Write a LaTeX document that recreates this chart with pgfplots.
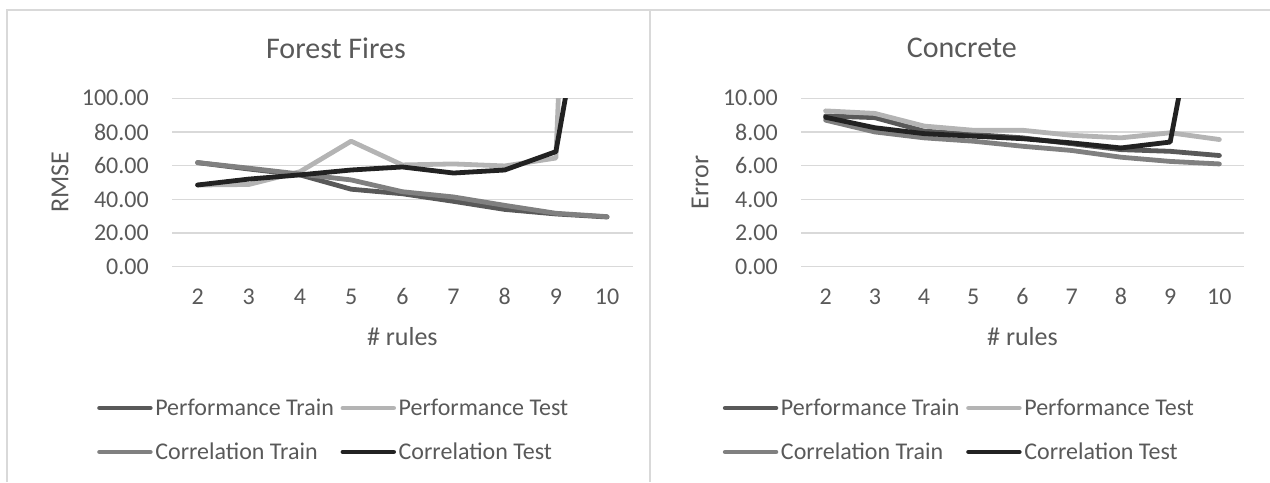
\documentclass[border=0pt]{standalone}
\usepackage{fontspec}
\setmainfont{Carlito}
\usepackage{pgfplots}
\usepackage{pgfplotstable}
\pgfplotsset{compat=1.18}
\definecolor{txt}{HTML}{595959}
\definecolor{gridc}{HTML}{D9D9D9}
\definecolor{ptrain}{HTML}{595959}
\definecolor{ptest}{HTML}{B4B4B4}
\definecolor{ctrain}{HTML}{808080}
\definecolor{ctest}{HTML}{222222}

\pgfplotstableread{
x PTr PTe CTr CTe
2 61.8 48.5 61.8 48.5
3 58.0 48.8 58.5 52.0
4 54.5 56.4 55.0 54.5
5 46.0 74.5 51.5 57.4
6 43.3 60.4 44.5 59.2
7 38.8 61.0 41.4 55.6
8 34.0 59.8 36.4 57.4
9 31.3 64.5 31.7 68.3
10 29.5 800 29.7 240
}\forest

\pgfplotstableread{
x PTr PTe CTr CTe
2 8.95 9.25 8.70 8.87
3 8.85 9.10 8.00 8.25
4 8.05 8.35 7.65 7.90
5 7.85 8.10 7.45 7.75
6 7.65 8.10 7.15 7.60
7 7.30 7.80 6.90 7.35
8 6.95 7.65 6.50 7.05
9 6.85 7.95 6.25 7.40
10 6.60 7.55 6.10 22.7
}\concrete

\newcommand{\fs}{\fontsize{18pt}{21pt}\selectfont}
\newcommand{\fl}{\fontsize{19.5pt}{23pt}\selectfont}
\pgfplotsset{
  myax/.style={
    scale only axis,
    height=126.3pt,
    xmin=1.5, xmax=10.5,
    xtick={2,...,10},
    axis line style={draw=none},
    major tick length=0pt,
    ymajorgrids,
    grid style={gridc, line width=1pt},
    scaled y ticks=false,
    tick label style={font=\fs, text=txt, inner sep=0pt},
    /pgf/number format/assume math mode=true,
    yticklabel style={anchor=east, xshift=-17.25pt,
      /pgf/number format/fixed, /pgf/number format/fixed zerofill,
      /pgf/number format/precision=2},
    xticklabel style={anchor=base, yshift=-28.7pt},
    label style={font=\fl, text=txt},
    title style={font=\fontsize{22.5pt}{26pt}\selectfont, text=txt, anchor=center},
    every axis plot/.append style={line width=3.6pt, line cap=round, line join=round},
    legend columns=2,
    legend cell align=left,
    legend style={draw=none, fill=none, font=\fs, text=txt, inner sep=0pt,
      anchor=west, row sep=15pt,
      /tikz/every even column/.append style={column sep=3pt}},
    legend image code/.code={\draw[##1] (0pt,0pt) -- (38pt,0pt);},
  }
}

\begin{document}
\begin{tikzpicture}
\useasboundingbox (0pt,0pt) rectangle (952.5pt,361.5pt);
\draw[gridc, line width=1pt] (5.25pt,0pt) -- (5.25pt,354pt) -- (952.5pt,354pt);
\draw[gridc, line width=1pt] (487.5pt,0pt) -- (487.5pt,354pt);

\begin{axis}[myax, at={(129pt,161.5pt)}, anchor=south west,
  width=345.5pt, ymin=0, ymax=100, ytick={0,20,...,100},
  title={Forest Fires}, title style={at={(axis description cs:0.356,1.251)}},
  xlabel={\# rules}, xlabel style={at={(axis description cs:0.5,-0.417)}, anchor=center},
  ylabel={RMSE}, ylabel style={at={(axis description cs:-0.243,0.5)}, anchor=center},
  legend style={at={(axis description cs:-0.163,-0.97)}}]
\addplot[ptrain] table[x=x,y=PTr] {\forest};
\addlegendentry{Performance Train}
\addplot[ptest] table[x=x,y=PTe] {\forest};
\addlegendentry{Performance Test}
\addplot[ctrain] table[x=x,y=CTr] {\forest};
\addlegendentry{Correlation Train}
\addplot[ctest] table[x=x,y=CTe] {\forest};
\addlegendentry{Correlation Test}
\end{axis}

\begin{axis}[myax, at={(600.75pt,161.5pt)}, anchor=south west,
  width=332.25pt, ymin=0, ymax=10, ytick={0,2,...,10},
  title={Concrete}, title style={at={(axis description cs:0.363,1.251)}},
  xlabel={\# rules}, xlabel style={at={(axis description cs:0.5,-0.417)}, anchor=center},
  ylabel={Error}, ylabel style={at={(axis description cs:-0.228,0.5)}, anchor=center},
  legend style={at={(axis description cs:-0.177,-0.97)}}]
\addplot[ptrain] table[x=x,y=PTr] {\concrete};
\addlegendentry{Performance Train}
\addplot[ptest] table[x=x,y=PTe] {\concrete};
\addlegendentry{Performance Test}
\addplot[ctrain] table[x=x,y=CTr] {\concrete};
\addlegendentry{Correlation Train}
\addplot[ctest] table[x=x,y=CTe] {\concrete};
\addlegendentry{Correlation Test}
\end{axis}
\end{tikzpicture}
\end{document}
